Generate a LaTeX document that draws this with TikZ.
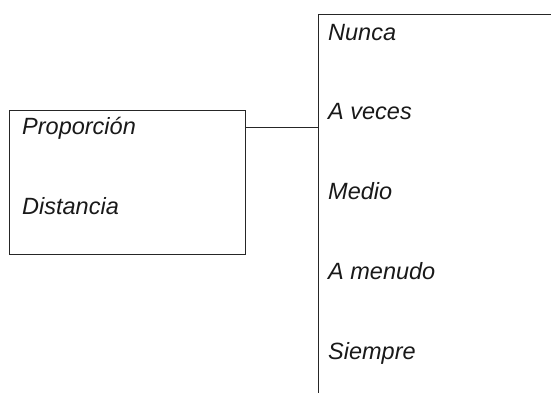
\documentclass[tikz,border=0pt]{standalone}
\usepackage{fontspec}
\setmainfont{Liberation Sans}
\begin{document}
\begin{tikzpicture}[x=1pt,y=1pt,
  boxframe/.style={draw=black!85, line width=0.9pt, rectangle, inner sep=0pt, outer sep=0pt, anchor=north west},
  lbl/.style={anchor=base west, inner sep=0pt, font=\fontsize{23.5}{26}\selectfont\itshape, text=black!90},
  conn/.style={draw=black!85, line width=0.9pt}]
\useasboundingbox (0,0) rectangle (551,392);
\clip (0,0) rectangle (551,392);
\node[boxframe, minimum width=236pt, minimum height=144pt] (lbox) at (9,282) {};
\node[boxframe, minimum width=300pt, minimum height=420pt] (rbox) at (318,378) {};
\coordinate (cy) at (0,265);
\draw[conn] (lbox.east |- cy) -- (rbox.west |- cy);
\node[lbl] (t1) at (22,258) {Proporción};
\node[lbl] (t2) at (22,178) {Distancia};
\node[lbl] (r1) at (328,352) {Nunca};
\node[lbl] (r2) at (328,273) {A veces};
\node[lbl] (r3) at (328,193) {Medio};
\node[lbl] (r4) at (328,113) {A menudo};
\node[lbl] (r5) at (328,33) {Siempre};
\end{tikzpicture}
\end{document}
